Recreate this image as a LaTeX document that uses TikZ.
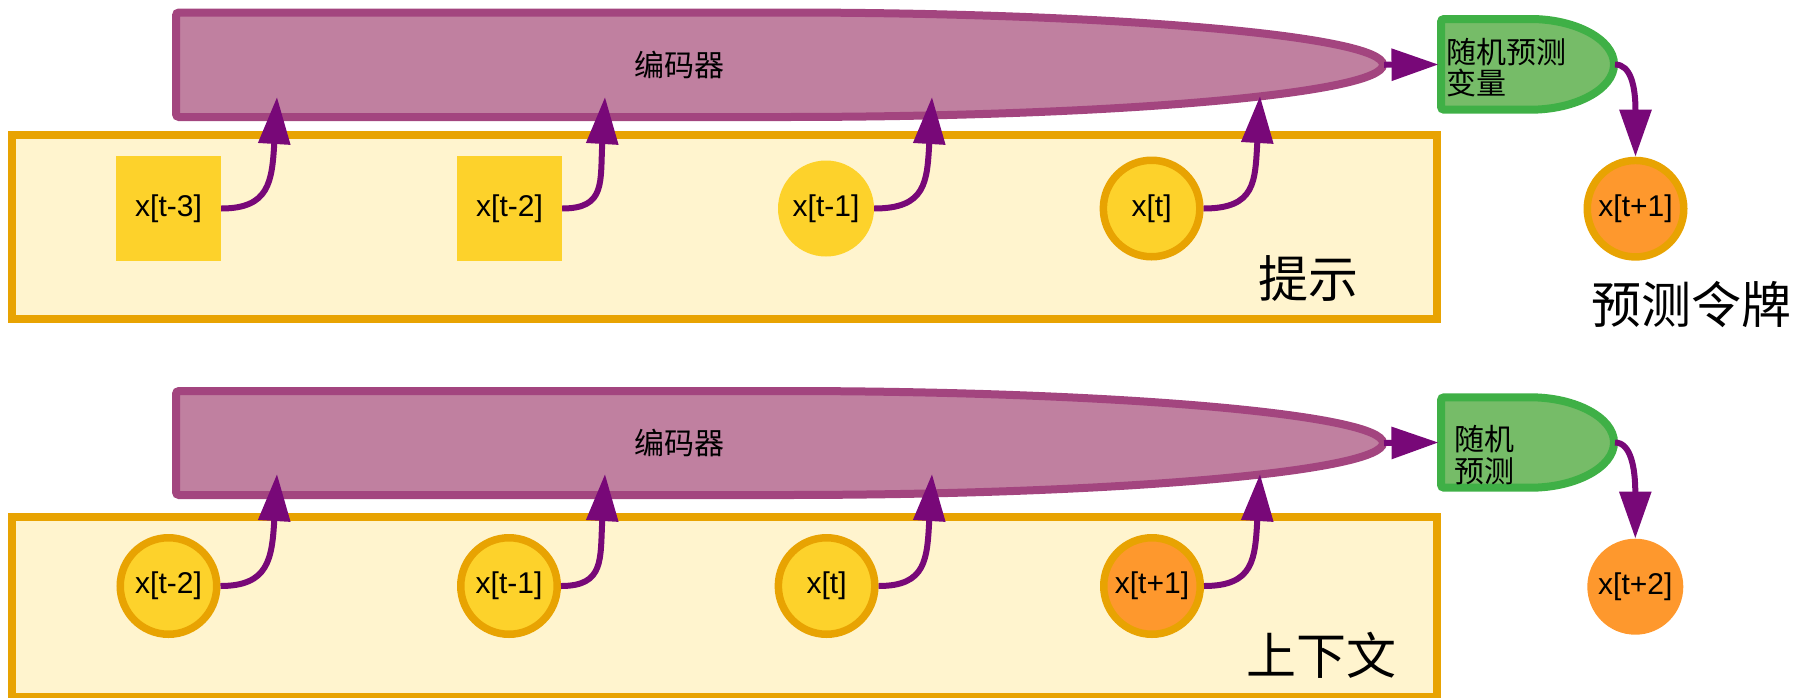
\documentclass[tikz,border=0pt]{standalone}
\usepackage{fontspec}
\setmainfont{Liberation Sans}
\newfontfamily\cjk{Noto Sans CJK SC}
\usetikzlibrary{arrows.meta}

\definecolor{encfill}{RGB}{192,128,160}
\definecolor{encline}{RGB}{163,69,127}
\definecolor{boxfill}{RGB}{255,244,206}
\definecolor{boxline}{RGB}{232,163,2}
\definecolor{tokfill}{RGB}{253,210,43}
\definecolor{predfill}{RGB}{254,152,45}
\definecolor{gfill}{RGB}{118,188,104}
\definecolor{gline}{RGB}{63,176,70}
\definecolor{arrowc}{RGB}{120,8,120}

\begin{document}
\begin{tikzpicture}[x=1pt,y=-1pt,
  ctx/.style={draw=boxline, fill=boxfill, line width=8pt},
  enc/.style={draw=encline, fill=encfill, line width=8pt, rounded corners=3pt},
  sampler/.style={draw=gline, fill=gfill, line width=8pt, rounded corners=3pt},
  tok/.style={inner sep=0pt, font=\fontsize{30}{36}\selectfont},
  sqtok/.style={tok, rectangle, fill=tokfill, minimum size=105pt},
  disc/.style={tok, circle, fill=#1, minimum size=96pt},
  ring/.style={tok, circle, fill=#1, draw=boxline, line width=7.5pt, minimum size=96.5pt},
  arr/.style={draw=arrowc, line width=6pt, -{Triangle[length=47pt,width=31pt]}},
  big/.style={inner sep=0pt, font=\cjk\fontsize{50}{60}\selectfont},
  small/.style={inner sep=0pt, align=left, font=\cjk\fontsize{30}{31.6}\selectfont},
]
\useasboundingbox (0,0) rectangle (1794,697);

% ---------- upper panel: prompt ----------
\draw[ctx] (12,135) rectangle (1437,319);
\draw[enc] (176,12.5) -- (779.5,12.5)
  arc[start angle=90, end angle=-90, x radius=603.5pt, y radius=52.25pt]
  -- (176,117) -- cycle;
\node[small, align=center] (enc1) at (679,65) {编码器};
\draw[sampler] (1441,19) -- (1527.5,19)
  arc[start angle=90, end angle=-90, x radius=86.5pt, y radius=45.35pt]
  -- (1441,109.7) -- cycle;
\node[small, anchor=west] (samp1) at (1446,67.5) {随机预测\\变量};

\node[sqtok] (p3) at (168.5,208.5) {x[t-3]};
\node[sqtok] (p2) at (509.5,208.5) {x[t-2]};
\node[disc=tokfill] (p1) at (826,208.5) {x[t-1]};
\node[ring=tokfill] (p0) at (1151.6,208.5) {x[t]};
\node[ring=predfill] (np1) at (1635.5,208.7) {x[t+1]};
\node[big] (lprompt) at (1308,278.5) {提示};
\node[big] (lpred) at (1691.7,304.5) {预测令牌};

\coordinate (t3) at (277,97);
\coordinate (t2) at (605,97);
\coordinate (t1) at (932,97);
\coordinate (t0) at (1260,96);
\coordinate (e1tip) at (1384,64.75);
\coordinate (g1w) at (1438.5,64.5);
\coordinate (g1e) at (1615,64.5);

% ---------- lower panel: context ----------
\draw[ctx] (12,517.3) rectangle (1437,696.7);
\draw[enc] (176,391) -- (779.5,391)
  arc[start angle=90, end angle=-90, x radius=603.5pt, y radius=52pt]
  -- (176,495) -- cycle;
\node[small, align=center] (enc2) at (679,443) {编码器};
\draw[sampler] (1441,397.3) -- (1527.5,397.3)
  arc[start angle=90, end angle=-90, x radius=86.5pt, y radius=45.2pt]
  -- (1441,487.7) -- cycle;
\node[small, anchor=west] (samp2) at (1454,455) {随机\\预测};

\node[ring=tokfill] (c2) at (168.5,586) {x[t-2]};
\node[ring=tokfill] (c1) at (509,586) {x[t-1]};
\node[ring=tokfill] (c0) at (826.6,586) {x[t]};
\node[ring=predfill] (cp1) at (1152,586) {x[t+1]};
\node[disc=predfill] (np2) at (1635.3,586.7) {x[t+2]};
\node[big] (lctx) at (1321.6,655) {上下文};

\coordinate (u2) at (277,474);
\coordinate (u1) at (605,474);
\coordinate (u0) at (932,474);
\coordinate (up1) at (1260,474);
\coordinate (e2tip) at (1384,443);
\coordinate (g2w) at (1438.5,442.5);
\coordinate (g2e) at (1615,442.5);

% ---------- connectors ----------
\draw[arr] (p3.east) .. controls +(48,0) and +(-5,85) .. (t3);
\draw[arr] (p2.east) .. controls +(44,0) and +(-5,85) .. (t2);
\draw[arr] (p1.east) .. controls +(52,0) and +(-5,85) .. (t1);
\draw[arr] (p0.east) .. controls +(52,0) and +(-5,86) .. (t0);
\draw[arr] (e1tip) -- (g1w);
\draw[arr] (g1e) .. controls +(16,0) and +(0,-70) .. (np1.north);

\draw[arr] (c2.east) .. controls +(48,0) and +(-5,85) .. (u2);
\draw[arr] (c1.east) .. controls +(44,0) and +(-5,85) .. (u1);
\draw[arr] (c0.east) .. controls +(48,0) and +(-5,85) .. (u0);
\draw[arr] (cp1.east) .. controls +(50,0) and +(-5,85) .. (up1);
\draw[arr] (e2tip) -- (g2w);
\draw[arr] (g2e) .. controls +(16,0) and +(0,-70) .. (np2.north);
\end{tikzpicture}
\end{document}
